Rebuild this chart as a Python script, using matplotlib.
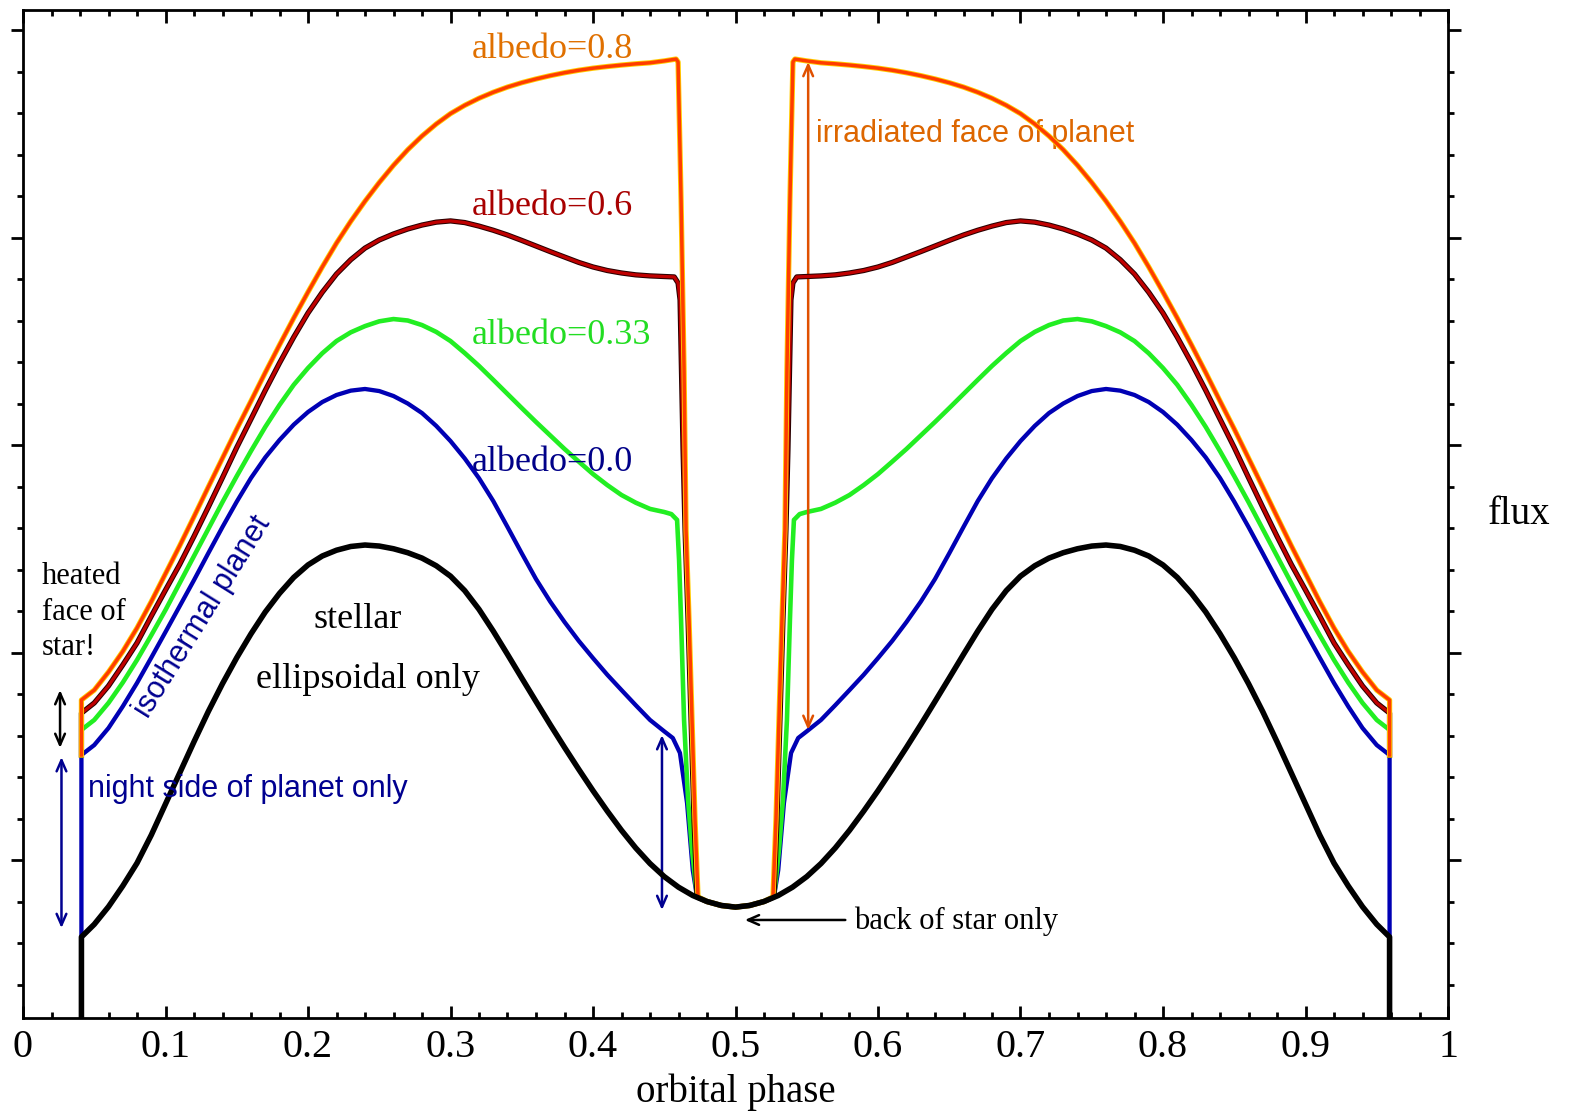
import matplotlib
matplotlib.use("Agg")
import matplotlib.pyplot as plt
from matplotlib.ticker import MultipleLocator, NullFormatter

# ---------------- data (flux in arbitrary units) ----------------
# shared phase grids for the smooth parts of the planet curves
phase_left = [0.05, 0.06, 0.07, 0.08, 0.09, 0.10, 0.11, 0.12, 0.13, 0.14,
              0.15, 0.16, 0.17, 0.18, 0.19, 0.20, 0.21, 0.22, 0.23, 0.24,
              0.25, 0.26, 0.27, 0.28, 0.29, 0.30, 0.31, 0.32, 0.33, 0.34,
              0.35, 0.36, 0.37, 0.38, 0.39, 0.40, 0.41, 0.42, 0.43, 0.44]
phase_right = [0.56, 0.57, 0.58, 0.59, 0.60, 0.61, 0.62, 0.63, 0.64, 0.65,
               0.66, 0.67, 0.68, 0.69, 0.70, 0.71, 0.72, 0.73, 0.74, 0.75,
               0.76, 0.77, 0.78, 0.79, 0.80, 0.81, 0.82, 0.83, 0.84, 0.85,
               0.86, 0.87, 0.88, 0.89, 0.90, 0.91, 0.92, 0.93, 0.94, 0.95]

# stellar ellipsoidal only (black)
phase_black = [0.041, 0.041,
               0.05, 0.06, 0.07, 0.08, 0.09, 0.10, 0.11, 0.12, 0.13, 0.14,
               0.15, 0.16, 0.17, 0.18, 0.19, 0.20, 0.21, 0.22, 0.23, 0.24,
               0.25, 0.26, 0.27, 0.28, 0.29, 0.30, 0.31, 0.32, 0.33, 0.34,
               0.35, 0.36, 0.37, 0.38, 0.39, 0.40, 0.41, 0.42, 0.43, 0.44,
               0.45, 0.46, 0.47, 0.48, 0.49, 0.50, 0.51, 0.52, 0.53, 0.54,
               0.55, 0.56, 0.57, 0.58, 0.59, 0.60, 0.61, 0.62, 0.63, 0.64,
               0.65, 0.66, 0.67, 0.68, 0.69, 0.70, 0.71, 0.72, 0.73, 0.74,
               0.75, 0.76, 0.77, 0.78, 0.79, 0.80, 0.81, 0.82, 0.83, 0.84,
               0.85, 0.86, 0.87, 0.88, 0.89, 0.90, 0.91, 0.92, 0.93, 0.94,
               0.95, 0.959, 0.959]
flux_black = [-1.0, 0.629,
              0.690, 0.775, 0.875, 0.985, 1.120, 1.270, 1.420, 1.570, 1.715, 1.850,
              1.975, 2.090, 2.195, 2.285, 2.362, 2.422, 2.465, 2.493, 2.511, 2.518,
              2.513, 2.500, 2.481, 2.455, 2.418, 2.368, 2.298, 2.208, 2.103, 1.991,
              1.877, 1.764, 1.652, 1.543, 1.437, 1.334, 1.236, 1.143, 1.058, 0.983,
              0.920, 0.869, 0.829, 0.800, 0.781, 0.773, 0.781, 0.800, 0.829, 0.869,
              0.920, 0.983, 1.058, 1.143, 1.236, 1.334, 1.437, 1.543, 1.652, 1.764,
              1.877, 1.991, 2.103, 2.208, 2.298, 2.368, 2.418, 2.455, 2.481, 2.500,
              2.513, 2.518, 2.511, 2.493, 2.465, 2.422, 2.362, 2.285, 2.195, 2.090,
              1.975, 1.850, 1.715, 1.570, 1.420, 1.270, 1.120, 0.985, 0.875, 0.775,
              0.690, 0.629, -1.0]

# albedo = 0.0 (isothermal planet, blue)
flux_a00_left = [1.554, 1.636, 1.740, 1.853, 1.975, 2.099, 2.224, 2.349, 2.478, 2.605,
                 2.727, 2.841, 2.940, 3.024, 3.098, 3.159, 3.207, 3.241, 3.262, 3.270,
                 3.260, 3.236, 3.200, 3.154, 3.092, 3.019, 2.935, 2.840, 2.730, 2.605,
                 2.478, 2.354, 2.245, 2.147, 2.056, 1.973, 1.893, 1.819, 1.746, 1.675]
flux_a00_right = [1.675, 1.746, 1.819, 1.893, 1.973, 2.056, 2.147, 2.245, 2.354, 2.478,
                  2.605, 2.730, 2.840, 2.935, 3.019, 3.092, 3.154, 3.200, 3.236, 3.260,
                  3.270, 3.262, 3.241, 3.207, 3.159, 3.098, 3.024, 2.940, 2.841, 2.727,
                  2.605, 2.478, 2.349, 2.224, 2.099, 1.975, 1.853, 1.740, 1.636, 1.554]
phase_a00_mid = [0.45, 0.456, 0.461, 0.466, 0.470, 0.473, 0.48, 0.49, 0.50, 0.51, 0.52,
                 0.527, 0.530, 0.534, 0.539, 0.544, 0.55]
flux_a00_mid = [1.620, 1.588, 1.516, 1.275, 0.952, 0.822, 0.800, 0.781, 0.773, 0.781, 0.800,
                0.822, 0.952, 1.275, 1.516, 1.588, 1.620]
phase_a00_start, flux_a00_start = [0.041, 0.041], [-1.0, 1.506]
phase_a00_end, flux_a00_end = [0.959, 0.959], [1.506, -1.0]

# albedo = 0.33 (green)
flux_a033_left = [1.675, 1.757, 1.855, 1.964, 2.083, 2.205, 2.335, 2.465, 2.595, 2.725,
                  2.850, 2.971, 3.087, 3.193, 3.290, 3.371, 3.442, 3.501, 3.543, 3.573,
                  3.596, 3.607, 3.600, 3.578, 3.545, 3.501, 3.443, 3.381, 3.314, 3.246,
                  3.178, 3.111, 3.046, 2.981, 2.920, 2.860, 2.807, 2.759, 2.722, 2.692]
flux_a033_right = [2.692, 2.722, 2.759, 2.807, 2.860, 2.920, 2.981, 3.046, 3.111, 3.178,
                   3.246, 3.314, 3.381, 3.443, 3.501, 3.545, 3.578, 3.600, 3.607, 3.596,
                   3.573, 3.543, 3.501, 3.442, 3.371, 3.290, 3.193, 3.087, 2.971, 2.850,
                   2.725, 2.595, 2.465, 2.335, 2.205, 2.083, 1.964, 1.855, 1.757, 1.675]
phase_a033_mid = [0.45, 0.455, 0.459, 0.4604, 0.4618, 0.4639, 0.4667, 0.4695, 0.473, 0.48,
                  0.49, 0.50, 0.51, 0.52, 0.527, 0.5305, 0.5333, 0.5361, 0.5382, 0.5396,
                  0.541, 0.545, 0.55]
flux_a033_mid = [2.677, 2.667, 2.639, 2.446, 2.157, 1.675, 1.289, 1.048, 0.822, 0.800,
                 0.781, 0.773, 0.781, 0.800, 0.822, 1.048, 1.289, 1.675, 2.157, 2.446,
                 2.639, 2.667, 2.677]
phase_a033_start, flux_a033_start = [0.041, 0.041], [1.506, 1.627]
phase_a033_end, flux_a033_end = [0.959, 0.959], [1.627, 1.506]

# albedo = 0.6 (dark red)
flux_a06_left = [1.757, 1.839, 1.940, 2.046, 2.175, 2.301, 2.425, 2.560, 2.700, 2.843,
                 2.988, 3.125, 3.263, 3.395, 3.520, 3.636, 3.736, 3.824, 3.893, 3.949,
                 3.988, 4.017, 4.041, 4.060, 4.074, 4.080, 4.072, 4.055, 4.035, 4.012,
                 3.986, 3.959, 3.932, 3.906, 3.880, 3.858, 3.841, 3.829, 3.820, 3.815]
flux_a06_right = [3.815, 3.820, 3.829, 3.841, 3.858, 3.880, 3.906, 3.932, 3.959, 3.986,
                  4.012, 4.035, 4.055, 4.072, 4.080, 4.074, 4.060, 4.041, 4.017, 3.988,
                  3.949, 3.893, 3.824, 3.736, 3.636, 3.520, 3.395, 3.263, 3.125, 2.988,
                  2.843, 2.700, 2.560, 2.425, 2.301, 2.175, 2.046, 1.940, 1.839, 1.757]
phase_a06_mid = [0.45, 0.457, 0.4597, 0.4611, 0.4632, 0.4646, 0.4667, 0.4688, 0.4709, 0.473,
                 0.48, 0.49, 0.50, 0.51, 0.52, 0.527, 0.5291, 0.5312, 0.5333, 0.5354,
                 0.5368, 0.5389, 0.5403, 0.543, 0.55]
flux_a06_mid = [3.812, 3.810, 3.781, 3.699, 2.976, 2.590, 2.157, 1.675, 1.193, 0.822,
                0.800, 0.781, 0.773, 0.781, 0.800, 0.822, 1.193, 1.675, 2.157, 2.590,
                2.976, 3.699, 3.781, 3.810, 3.812]
phase_a06_start, flux_a06_start = [0.041, 0.041], [1.506, 1.708]
phase_a06_end, flux_a06_end = [0.959, 0.959], [1.708, 1.506]

# albedo = 0.8 (orange)
flux_a08_left = [1.819, 1.906, 2.005, 2.118, 2.245, 2.380, 2.515, 2.655, 2.797, 2.937,
                 3.077, 3.212, 3.349, 3.482, 3.612, 3.737, 3.858, 3.973, 4.078, 4.175,
                 4.265, 4.348, 4.423, 4.489, 4.547, 4.597, 4.637, 4.671, 4.700, 4.725,
                 4.746, 4.764, 4.780, 4.794, 4.806, 4.816, 4.824, 4.831, 4.837, 4.842]
flux_a08_right = [4.842, 4.837, 4.831, 4.824, 4.816, 4.806, 4.794, 4.780, 4.764, 4.746,
                  4.725, 4.700, 4.671, 4.637, 4.597, 4.547, 4.489, 4.423, 4.348, 4.265,
                  4.175, 4.078, 3.973, 3.858, 3.737, 3.612, 3.482, 3.349, 3.212, 3.077,
                  2.937, 2.797, 2.655, 2.515, 2.380, 2.245, 2.118, 2.005, 1.906, 1.819]
phase_a08_mid = [0.45, 0.4583, 0.4597, 0.4618, 0.4639, 0.4653, 0.4674, 0.4695, 0.4716, 0.4737,
                 0.48, 0.49, 0.50, 0.51, 0.52, 0.5263, 0.5284, 0.5305, 0.5326, 0.5347,
                 0.5361, 0.5382, 0.5403, 0.5417, 0.55]
flux_a08_mid = [4.851, 4.860, 4.846, 4.181, 3.361, 2.590, 2.157, 1.675, 1.193, 0.822,
                0.800, 0.781, 0.773, 0.781, 0.800, 0.822, 1.193, 1.675, 2.157, 2.590,
                3.361, 4.181, 4.846, 4.860, 4.851]
phase_a08_start, flux_a08_start = [0.041, 0.041], [1.506, 1.771]
phase_a08_end, flux_a08_end = [0.959, 0.959], [1.771, 1.506]

xtick_values = [0, 0.1, 0.2, 0.3, 0.4, 0.5, 0.6, 0.7, 0.8, 0.9, 1]
xtick_labels = ["0", "0.1", "0.2", "0.3", "0.4", "0.5", "0.6", "0.7", "0.8", "0.9", "1"]


def curve(start_p, start_f, mid_p, mid_f, left_f, right_f, end_p, end_f):
    ph = start_p + phase_left + mid_p + phase_right + end_p
    fl = start_f + left_f + mid_f + right_f + end_f
    return ph, fl


p00, f00 = curve(phase_a00_start, flux_a00_start, phase_a00_mid, flux_a00_mid,
                 flux_a00_left, flux_a00_right, phase_a00_end, flux_a00_end)
p033, f033 = curve(phase_a033_start, flux_a033_start, phase_a033_mid, flux_a033_mid,
                   flux_a033_left, flux_a033_right, phase_a033_end, flux_a033_end)
p06, f06 = curve(phase_a06_start, flux_a06_start, phase_a06_mid, flux_a06_mid,
                 flux_a06_left, flux_a06_right, phase_a06_end, flux_a06_end)
p08, f08 = curve(phase_a08_start, flux_a08_start, phase_a08_mid, flux_a08_mid,
                 flux_a08_left, flux_a08_right, phase_a08_end, flux_a08_end)

# ---------------- figure ----------------
SERIF = ["Liberation Serif", "DejaVu Serif"]
SANS = ["Liberation Sans", "DejaVu Sans"]

fig = plt.figure(figsize=(15.7, 11.11), dpi=100)
ax = fig.add_axes([23 / 1570, 1 - 1018 / 1111, (1448 - 23) / 1570, (1018 - 10) / 1111])

ax.set_xlim(0, 1)
ax.set_ylim(0.2386, 5.0964)

# curves
ax.plot(p00, f00, color="#0000b4", lw=3.1, solid_joinstyle="round", zorder=2.7)
ax.plot(p033, f033, color="#22ee22", lw=3.3, solid_joinstyle="round", zorder=2.8)
ax.plot(p06, f06, color="#2a0000", lw=3.8, solid_joinstyle="round", zorder=3.2)
ax.plot(p06, f06, color="#c00000", lw=2.3, solid_joinstyle="round", zorder=3.3)
ax.plot(p08, f08, color="#ffcc00", lw=3.8, solid_joinstyle="round", zorder=3.4)
ax.plot(p08, f08, color="#ff3c00", lw=2.5, solid_joinstyle="round", zorder=3.5)
ax.plot(phase_black, flux_black, color="black", lw=4.0, solid_joinstyle="round", zorder=4)

# axes styling
for s in ax.spines.values():
    s.set_linewidth(2.0)
ax.xaxis.set_minor_locator(MultipleLocator(0.02))
ax.yaxis.set_major_locator(MultipleLocator(1))
ax.yaxis.set_minor_locator(MultipleLocator(0.2))
ax.set_xticks(xtick_values)
ax.set_xticklabels(xtick_labels, fontfamily=SERIF, fontsize=29)
ax.yaxis.set_major_formatter(NullFormatter())
ax.tick_params(axis="x", which="both", direction="in", top=True, bottom=True, width=2.0, pad=8)
ax.tick_params(axis="x", which="major", length=9)
ax.tick_params(axis="x", which="minor", length=4.5)
ax.tick_params(axis="y", which="both", direction="out", left=True, right=True, width=2.0)
ax.tick_params(axis="y", which="major", length=9)
ax.tick_params(axis="y", which="minor", length=4.5)

ax.set_xlabel("orbital phase", fontfamily=SERIF, fontsize=28, labelpad=5)
fig.text(1519 / 1570, 1 - 515 / 1111, "flux", fontfamily=SERIF, fontsize=28,
         ha="center", va="center")

# labels
ax.text(0.3151, 4.905, "albedo=0.8", color="#e07000", fontfamily=SERIF, fontsize=26, ha="left", va="center")
ax.text(0.3151, 4.150, "albedo=0.6", color="#a80000", fontfamily=SERIF, fontsize=26, ha="left", va="center")
ax.text(0.3151, 3.530, "albedo=0.33", color="#22dd22", fontfamily=SERIF, fontsize=26, ha="left", va="center")
ax.text(0.3151, 2.915, "albedo=0.0", color="#000088", fontfamily=SERIF, fontsize=26, ha="left", va="center")

ax.text(0.5565, 4.500, "irradiated face of planet", color="#dd6600", fontfamily=SANS, fontsize=22,
        ha="left", va="center")
ax.text(0.0456, 1.340, "night side of planet only", color="#000090", fontfamily=SANS, fontsize=22,
        ha="left", va="center", zorder=5)
ax.text(0.1263, 2.171, "isothermal planet", color="#000090", fontfamily=SANS, fontsize=22,
        ha="center", va="center", rotation=58, rotation_mode="anchor")
ax.text(0.0133, 2.195, "heated\nface of\nstar!", color="black", fontfamily=SERIF, fontsize=22,
        ha="left", va="center", linespacing=1.3)
ax.text(0.2351, 2.160, "stellar", color="black", fontfamily=SERIF, fontsize=26, ha="center", va="center")
ax.text(0.2421, 1.870, "ellipsoidal only", color="black", fontfamily=SERIF, fontsize=26,
        ha="center", va="center")
ax.text(0.5832, 0.705, "back of star only", color="black", fontfamily=SERIF, fontsize=22,
        ha="left", va="center")

# arrows
ax.annotate("", xy=(0.5046, 0.711), xytext=(0.5790, 0.711),
            arrowprops=dict(arrowstyle="->,head_length=0.8,head_width=0.35", color="black", lw=1.8))
ax.annotate("", xy=(0.026, 1.540), xytext=(0.026, 1.819),
            arrowprops=dict(arrowstyle="<->,head_length=0.8,head_width=0.35", color="black", lw=1.8,
                            shrinkA=0, shrinkB=0))
ax.annotate("", xy=(0.027, 0.672), xytext=(0.027, 1.496),
            arrowprops=dict(arrowstyle="<->,head_length=0.8,head_width=0.35", color="#000090", lw=1.8,
                            shrinkA=0, shrinkB=0))
ax.annotate("", xy=(0.4484, 0.759), xytext=(0.4484, 1.602),
            arrowprops=dict(arrowstyle="<->,head_length=0.8,head_width=0.35", color="#000090", lw=1.8,
                            shrinkA=0, shrinkB=0))
ax.annotate("", xy=(0.551, 1.627), xytext=(0.551, 4.846),
            arrowprops=dict(arrowstyle="<->,head_length=0.8,head_width=0.35", color="#e05000", lw=1.8,
                            shrinkA=0, shrinkB=0))

fig.savefig("out.png", dpi=100)
